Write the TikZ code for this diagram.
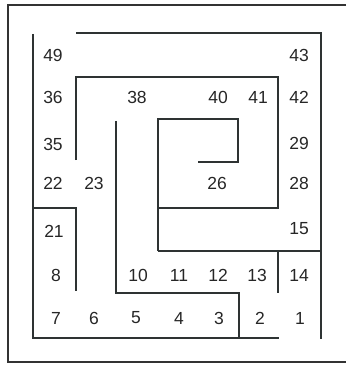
\documentclass[tikz,border=0pt]{standalone}
\usepackage{fontspec}
\setmainfont{Liberation Sans}
\usepackage{tikz}
\usetikzlibrary{positioning}
\definecolor{WallGrey}{HTML}{2E3333}
\definecolor{FrameGrey}{HTML}{333333}

\begin{document}
\begin{tikzpicture}[x=1pt,y=-1pt,
    wall/.style={WallGrey,line width=2.7pt},
    cellnum/.style={inner sep=0pt,font=\fontsize{17.5}{20}\selectfont,text=black!85}]
  \useasboundingbox (0,0) rectangle (346,366);
  % outer frame
  \draw[FrameGrey,line width=1.6pt] (346,5) -- (8,5) -- (8,362) -- (346,362);
  % outer spiral
  \draw[wall] (76,33) -- (321,33) -- (321,339);
  \draw[wall] (33,34) -- (33,338) -- (279,338);
  % second ring
  \draw[wall] (76,160) -- (76,77) -- (278,77) -- (278,208) -- (158,208);
  \draw[wall] (158,251) -- (158,119) -- (238,119) -- (238,162) -- (198,162);
  % inner corridor
  \draw[wall] (116,121) -- (116,293) -- (239,293) -- (239,338);
  \draw[wall] (158,251) -- (321,251);
  \draw[wall] (278,251) -- (278,293);
  % small pocket
  \draw[wall] (33,208) -- (76,208) -- (76,291);
  % square numbers
  \foreach \num/\px/\py in {49/53/55,36/53/97,35/53/144,22/53/183,23/94/183,
      38/137/97,40/218/97,41/258/97,42/299/97,43/299/55,29/299/143,28/299/183,
      26/217/183,15/299/229,14/299/275,13/257/275,12/218/275,11/179/275,10/138/275,
      21/54/231,8/56/275,7/56/318,6/94/318,5/136/318,4/179/318,3/219/318,
      2/260/318,1/300/318} {
    \node[cellnum] (n\num) at (\px,\py) {\num};
  }
\end{tikzpicture}
\end{document}
